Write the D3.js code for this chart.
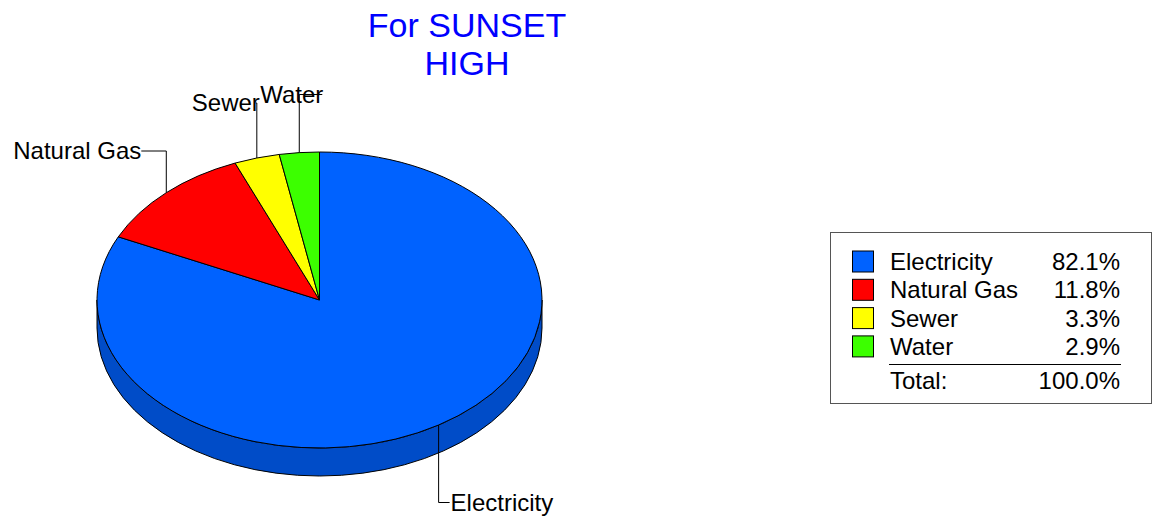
<!DOCTYPE html>
<html>
<head>
<meta charset="utf-8">
<script src="https://cdn.jsdelivr.net/npm/d3@7"></script>
<style>
  html, body { margin: 0; padding: 0; background: #fff; }
  svg { display: block; font-family: "Liberation Sans", Arial, sans-serif; }
</style>
</head>
<body>
<svg id="chart" width="1160" height="519"></svg>
<script>
// Utility cost shares (percent)
const categories = ["Electricity", "Natural Gas", "Sewer", "Water"];
const shares = [82.1, 11.8, 3.3, 2.9];
const totalLabel = "100.0%";
const topColors = ["#0062ff", "#ff0000", "#ffff00", "#3cff00"];
const sideColors = ["#004cc8", "#c80000", "#c8c800", "#2ec800"];

const svg = d3.select("#chart");

// Title
const title = svg.append("text")
  .attr("x", 467).attr("text-anchor", "middle")
  .attr("fill", "#0000ff").attr("font-size", 34);
title.append("tspan").attr("x", 467).attr("y", 37).text("For SUNSET");
title.append("tspan").attr("x", 467).attr("y", 75).text("HIGH");

// Elliptical 3D pie geometry
const cx = 319.5, cy = 300, rx = 222.5, ry = 148, depth = 28;
const pt = (a, dy = 0) => [cx + rx * Math.sin(a), cy - ry * Math.cos(a) + dy];

const pie = d3.pie().sort(null).value(d => d.v);
const arcs = pie(categories.map((c, i) => ({ c, v: shares[i], i })));

const g = svg.append("g");

// Side walls: only the front half (angles between PI/2 and 3PI/2) is visible
arcs.forEach(d => {
  const a0 = Math.max(d.startAngle, Math.PI / 2);
  const a1 = Math.min(d.endAngle, 3 * Math.PI / 2);
  if (a1 <= a0) return;
  const p0 = pt(a0), p1 = pt(a1), q1 = pt(a1, depth), q0 = pt(a0, depth);
  const large = (a1 - a0) > Math.PI ? 1 : 0;
  const path = `M${p0}A${rx},${ry} 0 ${large} 1 ${p1}L${q1}A${rx},${ry} 0 ${large} 0 ${q0}Z`;
  g.append("path").attr("d", path)
    .attr("fill", sideColors[d.data.i])
    .attr("stroke", "#000").attr("stroke-width", 1).attr("stroke-linejoin", "round");
});

// Top face slices
arcs.forEach(d => {
  const p0 = pt(d.startAngle), p1 = pt(d.endAngle);
  const large = (d.endAngle - d.startAngle) > Math.PI ? 1 : 0;
  const path = `M${cx},${cy}L${p0}A${rx},${ry} 0 ${large} 1 ${p1}Z`;
  g.append("path").attr("d", path)
    .attr("fill", topColors[d.data.i])
    .attr("stroke", "#000").attr("stroke-width", 1).attr("stroke-linejoin", "round");
});

// Leader lines and slice labels
const labelFont = 24;
const leaderSpec = [
  { elbowY: 502.5, dir: 1, len: 11, shift: 1 },   // Electricity: down then right
  { elbowY: 151, dir: -1, len: 25, shift: 0 },    // Natural Gas: up then left
  { elbowY: 103, dir: -1, len: 1, shift: 4 },     // Sewer: up
  { elbowY: 94.5, dir: 1, len: 23, shift: 1 }     // Water: up then right
];
arcs.forEach(d => {
  const i = d.data.i, s = leaderSpec[i];
  const mid = (d.startAngle + d.endAngle) / 2;
  const [x0, y0] = pt(mid);
  const xe = x0 + s.dir * s.len;
  g.append("path")
    .attr("d", `M${x0},${y0}L${x0},${s.elbowY}L${xe},${s.elbowY}`)
    .attr("fill", "none").attr("stroke", "#000").attr("stroke-width", 1);
  g.append("text")
    .attr("font-size", labelFont).attr("fill", "#000")
    .attr("x", xe + s.shift)
    .attr("y", s.elbowY + 8.3)
    .attr("text-anchor", i === 0 ? "start" : "end")
    .text(d.data.c);
});

// Legend
const legend = svg.append("g");
legend.append("rect")
  .attr("x", 830.5).attr("y", 232.5).attr("width", 321).attr("height", 171)
  .attr("fill", "#fff").attr("stroke", "#555").attr("stroke-width", 1);
const rowY = d3.scaleLinear().domain([0, 1]).range([261.5, 289.8]);
categories.forEach((c, i) => {
  const y = rowY(i);
  legend.append("rect")
    .attr("x", 852.5).attr("y", y - 10.5).attr("width", 21).attr("height", 21)
    .attr("fill", topColors[i]).attr("stroke", "#000").attr("stroke-width", 1);
  legend.append("text").attr("x", 890).attr("y", y + 8.5)
    .attr("font-size", labelFont).text(c);
  legend.append("text").attr("x", 1120).attr("y", y + 8.5)
    .attr("text-anchor", "end").attr("font-size", labelFont)
    .text(d3.format(".1f")(shares[i]) + "%");
});
legend.append("line")
  .attr("x1", 889).attr("x2", 1121).attr("y1", 364.5).attr("y2", 364.5)
  .attr("stroke", "#000").attr("stroke-width", 1);
legend.append("text").attr("x", 890).attr("y", 388.5)
  .attr("font-size", labelFont).text("Total:");
legend.append("text").attr("x", 1120).attr("y", 388.5)
  .attr("text-anchor", "end").attr("font-size", labelFont).text(totalLabel);
</script>
</body>
</html>
